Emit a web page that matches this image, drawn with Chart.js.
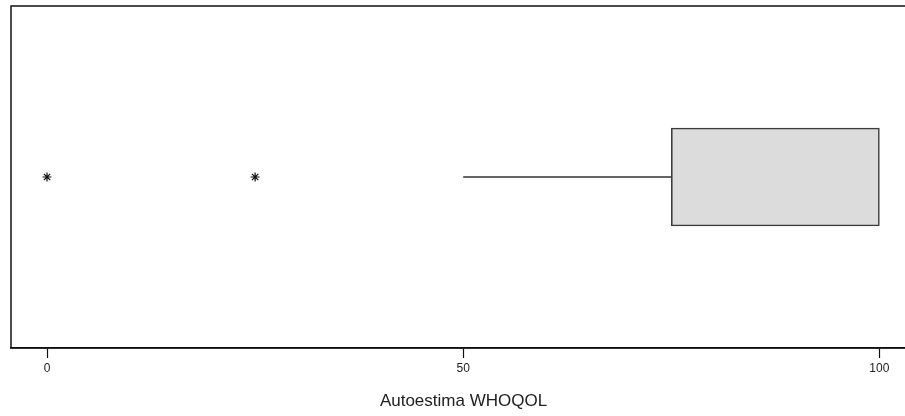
<!DOCTYPE html>
<html>
<head>
<meta charset="utf-8">
<script src="https://cdn.jsdelivr.net/npm/chart.js@4.4.0/dist/chart.umd.min.js"></script>
<style>
html,body{margin:0;padding:0;background:#fff;overflow:hidden;}
#wrap{width:905px;height:416px;position:relative;overflow:hidden;}
canvas{display:block;}
</style>
</head>
<body>
<div id="wrap"><canvas id="c" width="926" height="416"></canvas></div>
<script>
// ---- data ----
const categories = ['Autoestima WHOQOL'];
const lowerWhisker = [50];
const q1 = [75];
const median = [100];
const q3 = [100];
const upperWhisker = [100];
const outliers = [0, 25];
const tickValues = [0, 50, 100];
const axisTitle = 'Autoestima WHOQOL';

const cat = categories[0];

const framePlugin = {
  id: 'frame',
  afterDraw(chart) {
    const {ctx, chartArea: a} = chart;
    ctx.save();
    ctx.strokeStyle = '#111';
    ctx.lineWidth = 1.5;
    ctx.beginPath();
    ctx.rect(a.left, a.top, a.right - a.left, a.bottom - a.top);
    ctx.stroke();
    ctx.restore();
  }
};

new Chart(document.getElementById('c'), {
  type: 'bar',
  data: {
    labels: categories,
    datasets: [
      {
        type: 'line',
        data: [{x: lowerWhisker[0], y: cat}, {x: q1[0], y: cat}],
        borderColor: '#333',
        borderWidth: 1.5,
        pointRadius: 0,
        order: 3
      },
      {
        type: 'line',
        data: [{x: q3[0], y: cat}, {x: upperWhisker[0], y: cat}],
        borderColor: '#333',
        borderWidth: 1.5,
        pointRadius: 0,
        order: 3
      },
      {
        type: 'bar',
        data: [[q1[0], q3[0]]],
        backgroundColor: '#dcdcdc',
        borderColor: '#3c3c3c',
        borderWidth: 1.6,
        borderSkipped: false,
        barThickness: 98,
        order: 2
      },
      {
        type: 'scatter',
        data: outliers.map(v => ({x: v, y: cat})),
        pointStyle: 'star',
        radius: 4.5,
        borderColor: '#111',
        backgroundColor: '#111',
        borderWidth: 1.2,
        order: 1
      }
    ]
  },
  options: {
    indexAxis: 'y',
    responsive: false,
    animation: false,
    events: [],
    layout: {padding: {left: 11, top: 6, right: 10, bottom: 0}},
    plugins: {legend: {display: false}, tooltip: {enabled: false}},
    scales: {
      x: {
        type: 'linear',
        min: -4.33,
        max: 104.4,
        afterBuildTicks(s) { s.ticks = tickValues.map(v => ({value: v})); },
        afterFit(s) { s.height = 68; },
        grid: {
          drawOnChartArea: false,
          drawTicks: true,
          tickLength: 10,
          tickColor: '#111',
          tickWidth: 1.2
        },
        border: {display: true, color: '#111', width: 1.5},
        ticks: {
          padding: 3,
          color: '#222',
          font: {family: 'Liberation Sans, Arial, sans-serif', size: 12}
        },
        title: {
          display: true,
          text: axisTitle,
          color: '#222',
          font: {family: 'Liberation Sans, Arial, sans-serif', size: 17},
          padding: {top: 0, bottom: 4}
        }
      },
      y: {
        type: 'category',
        display: false,
        offset: true
      }
    }
  },
  plugins: [framePlugin]
});
</script>
</body>
</html>
